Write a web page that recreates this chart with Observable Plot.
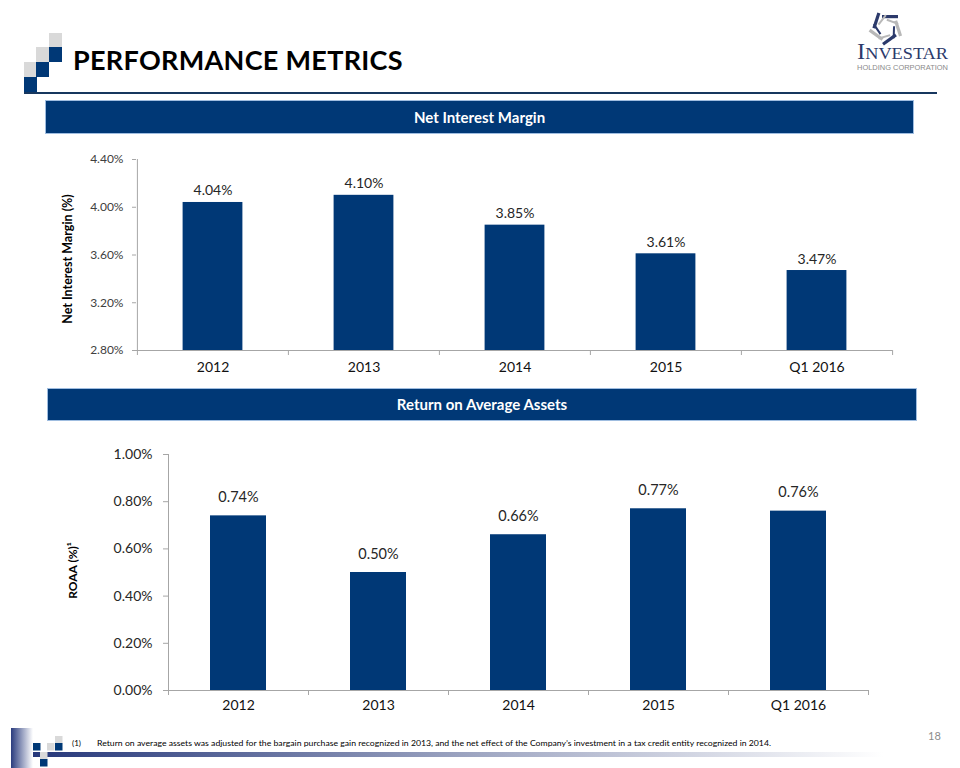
<!DOCTYPE html>
<html>
<head>
<meta charset="utf-8">
<script src="https://cdn.jsdelivr.net/npm/d3@7"></script>
<script src="https://cdn.jsdelivr.net/npm/@observablehq/plot@0.6"></script>
<style>
  html, body { margin: 0; padding: 0; background: #fff; }
  #page { position: relative; width: 960px; height: 768px; overflow: hidden; font-family: Lato, "Open Sans", sans-serif; }
  .abs { position: absolute; }
  .title { left: 73px; top: 40px; font-size: 27px; font-weight: 700; color: #000; letter-spacing: 0.3px; line-height: 40px; }
  .band { background: #003876; border: 1px solid #9fbde0; color: #fff; font-weight: 700; font-size: 15px; text-align: center; box-sizing: border-box; }
</style>
</head>
<body>
<div id="page">
  <svg id="deco" class="abs" style="left:0;top:0" width="960" height="768"></svg>
  <div class="abs title">PERFORMANCE METRICS</div>
  <div class="abs band" style="left:45px;top:100px;width:869px;height:34px;line-height:32px;">Net Interest Margin</div>
  <div class="abs band" style="left:47px;top:388px;width:870px;height:33px;line-height:31px;">Return on Average Assets</div>
  <div id="c1" class="abs" style="left:40px;top:140px;"></div>
  <div id="c2" class="abs" style="left:40px;top:425px;"></div>
</div>
<script>
// ---- data ----
const categories = ["2012", "2013", "2014", "2015", "Q1 2016"];
const nimValues = [4.04, 4.10, 3.85, 3.61, 3.47];
const roaaValues = [0.74, 0.50, 0.66, 0.77, 0.76];
const nimTicks = [2.8, 3.2, 3.6, 4.0, 4.4];
const roaaTicks = [0, 0.2, 0.4, 0.6, 0.8, 1.0];
const nimLabel = "Net Interest Margin (%)";
const roaaLabel = "ROAA (%)\u00b9";
const footnote = "Return on average  assets was adjusted for the bargain purchase gain recognized  in 2013, and the net effect  of the Company\u2019s investment  in a tax credit entity  recognized in 2014.";

const BAR = "#003876";
const AXIS = "#a6a6a6";

function makeChart(o) {
  const data = categories.map((c, i) => ({cat: c, v: o.values[i]}));
  const step = (o.width - o.ml - o.mr) / categories.length;
  const inset = (step - o.barWidth) / 2;
  const fmt = d => d.toFixed(2) + "%";
  return Plot.plot({
    width: o.width, height: o.height,
    marginLeft: o.ml, marginRight: o.mr, marginTop: o.mt, marginBottom: o.mb,
    style: {fontFamily: "Lato, 'Open Sans', sans-serif", background: "transparent", overflow: "visible"},
    x: {type: "band", domain: categories, padding: 0},
    y: {domain: o.domain},
    marks: [
      Plot.barY(data, {x: "cat", y1: o.domain[0], y2: "v", fill: BAR, insetLeft: inset, insetRight: inset}),
      Plot.ruleY([o.domain[0]], {stroke: AXIS, strokeWidth: 1}),
      Plot.ruleX([categories[0]], {stroke: AXIS, dx: -step / 2}),
      Plot.ruleX(categories, {x: d => d, y1: o.domain[0], y2: o.domain[0], insetBottom: -5, stroke: AXIS, dx: -step / 2}),
      Plot.ruleX([categories[categories.length - 1]], {x: d => d, y1: o.domain[0], y2: o.domain[0], insetBottom: -5, stroke: AXIS, dx: step / 2}),
      Plot.axisY({ticks: o.ticks, tickFormat: fmt, tickSize: o.tickSize, tickPadding: o.tickPadding, stroke: AXIS, fill: o.tickColor, fontSize: o.tickFont, label: null}),
      Plot.axisX({tickSize: 0, tickPadding: o.xPad, fontSize: 14, fill: "#111", label: null}),
      Plot.text(data, {x: "cat", y: "v", text: d => fmt(d.v), dy: o.valDy, lineAnchor: "bottom", fontSize: o.valFont, fill: "#262626"}),
      Plot.text([o.label], {text: d => d, frameAnchor: "left", textAnchor: "middle", rotate: -90, dx: o.labelDx, dy: o.labelDy, fontWeight: "bold", fontSize: o.labelFont, fill: "#000"})
    ]
  });
}

document.getElementById("c1").appendChild(makeChart({
  values: nimValues, ticks: nimTicks, domain: [2.8, 4.4], label: nimLabel,
  width: 880, height: 245, ml: 96, mr: 28, mt: 19, mb: 35, barWidth: 60,
  tickSize: 4, tickPadding: 9, tickFont: 12, tickColor: "#404040", xPad: 12,
  valDy: -7, valFont: 14, labelDx: -69, labelDy: 4, labelFont: 12.5
}));

document.getElementById("c2").appendChild(makeChart({
  values: roaaValues, ticks: roaaTicks, domain: [0, 1], label: roaaLabel,
  width: 880, height: 295, ml: 128, mr: 52, mt: 29, mb: 30, barWidth: 56,
  tickSize: 5, tickPadding: 11, tickFont: 14, tickColor: "#262626", xPad: 10,
  valDy: -14, valFont: 14.5, labelDx: -95, labelDy: -2, labelFont: 12
}));

// ---- slide decorations ----
const svg = d3.select("#deco");
const defs = svg.append("defs");
const g1 = defs.append("linearGradient").attr("id", "gv").attr("x1", 0).attr("x2", 1).attr("y1", 0).attr("y2", 0);
g1.append("stop").attr("offset", 0).attr("stop-color", "#2a3c7e");
g1.append("stop").attr("offset", 1).attr("stop-color", "#ffffff");
const g2 = defs.append("linearGradient").attr("id", "gh").attr("x1", 0).attr("x2", 1).attr("y1", 0).attr("y2", 0);
g2.append("stop").attr("offset", 0).attr("stop-color", "#25377a");
g2.append("stop").attr("offset", 0.5).attr("stop-color", "#9aa2bf");
g2.append("stop").attr("offset", 1).attr("stop-color", "#ffffff");

// top-left squares
const sq = [[49,33,"#d9d9d9"],[49,47,"#003876"],[36,47,"#d9d9d9"],[24,62,"#d9d9d9"],[36,62,"#003876"],[24,77,"#003876"]];
sq.forEach(([x,y,c]) => svg.append("rect").attr("x", x).attr("y", y).attr("width", 13).attr("height", y === 77 ? 17 : 15).attr("fill", c));
svg.append("rect").attr("x", 24).attr("y", 92).attr("width", 913).attr("height", 2).attr("fill", "#17375e");

// logo
const logo = svg.append("g");
const spokes = [[0,"#2c3a6b"],[72,"#b8b8b8"],[144,"#2c3a6b"],[216,"#b8b8b8"],[288,"#2c3a6b"]];
spokes.forEach(([a,c]) => {
  logo.append("rect").attr("x", -4).attr("y", -13).attr("width", 16).attr("height", 3.2).attr("fill", c)
    .attr("transform", `translate(886,28) rotate(${a})`);
  logo.append("rect").attr("x", -2).attr("y", -9).attr("width", 12).attr("height", 2).attr("fill", c === "#2c3a6b" ? "#b8b8b8" : "#2c3a6b")
    .attr("transform", `translate(886,28) rotate(${a + 20})`);
});
const t = logo.append("text").attr("x", 857).attr("y", 59).attr("fill", "#2c3a6b").attr("font-family", "'Liberation Serif', serif").attr("textLength", 91).attr("lengthAdjust", "spacingAndGlyphs");
t.append("tspan").attr("font-size", 23).text("I");
t.append("tspan").attr("font-size", 17).text("NVESTAR");
logo.append("text").attr("x", 857).attr("y", 70).attr("fill", "#8a8a8a").attr("font-family", "'Liberation Sans', sans-serif").attr("font-size", 6.5).attr("textLength", 91).attr("lengthAdjust", "spacingAndGlyphs").text("HOLDING CORPORATION");

// bottom decorations
svg.append("rect").attr("x", 11).attr("y", 728).attr("width", 22).attr("height", 40).attr("fill", "url(#gv)");
svg.append("rect").attr("x", 33).attr("y", 752).attr("width", 850).attr("height", 5).attr("fill", "url(#gh)");
const bsq = [[33,743,"#003876"],[47,743,"#d9d9d9"],[55,736,"#d9d9d9"],[55,743,"#003876"],[40,752,"#d9d9d9"],[40,759,"#003876"]];
bsq.forEach(([x,y,c]) => svg.append("rect").attr("x", x).attr("y", y).attr("width", 7.5).attr("height", 7.5).attr("fill", c));
svg.append("text").attr("x", 72).attr("y", 746).attr("font-size", 8).attr("font-family", "Lato, sans-serif").attr("fill", "#000").text("(1)");
svg.append("text").attr("x", 97).attr("y", 746).attr("font-size", 8).attr("font-family", "Lato, sans-serif").attr("fill", "#000")
  .attr("textLength", 674).attr("lengthAdjust", "spacingAndGlyphs").text(footnote);
svg.append("text").attr("x", 928).attr("y", 740).attr("font-size", 11).attr("font-family", "Lato, sans-serif").attr("fill", "#8c8c8c").text("18");
</script>
</body>
</html>
